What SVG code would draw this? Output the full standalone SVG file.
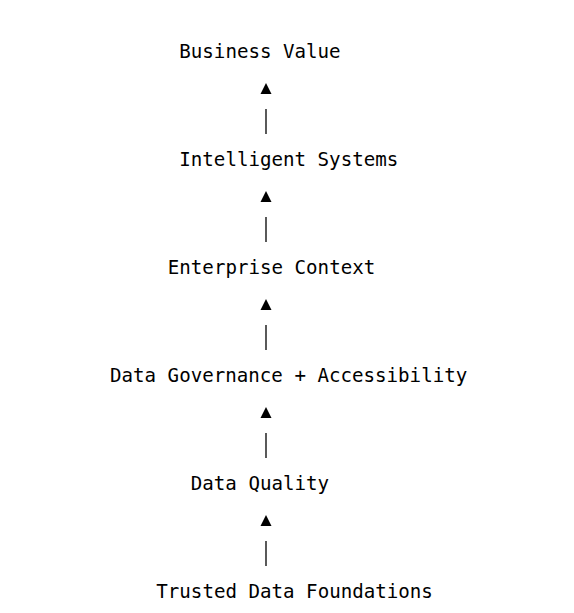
<svg xmlns="http://www.w3.org/2000/svg" width="574" height="613" viewBox="0 0 574 613">
<style>
.t{font-family:"DejaVu Sans Mono","Liberation Mono",monospace;font-size:19.15px;fill:#000}
.bar{stroke:#000;stroke-width:1.3}
.tri{fill:#000}
</style>
<rect width="574" height="613" fill="#fff"/>
<g id="connectors">
<polygon class="tri" points="266,83 260.5,94 271.5,94"/>
<line class="bar" x1="266" y1="109" x2="266" y2="134"/>
<polygon class="tri" points="266,191 260.5,202 271.5,202"/>
<line class="bar" x1="266" y1="217" x2="266" y2="242"/>
<polygon class="tri" points="266,299 260.5,310 271.5,310"/>
<line class="bar" x1="266" y1="325" x2="266" y2="350"/>
<polygon class="tri" points="266,407 260.5,418 271.5,418"/>
<line class="bar" x1="266" y1="433" x2="266" y2="458"/>
<polygon class="tri" points="266,515 260.5,526 271.5,526"/>
<line class="bar" x1="266" y1="541" x2="266" y2="566"/>
</g>
<g id="business-value"><text class="t" x="179.3" y="58">Business Value</text></g>
<g id="intelligent-systems"><text class="t" x="179.3" y="166">Intelligent Systems</text></g>
<g id="enterprise-context"><text class="t" x="167.8" y="274">Enterprise Context</text></g>
<g id="data-governance"><text class="t" x="110" y="382">Data Governance + Accessibility</text></g>
<g id="data-quality"><text class="t" x="190.8" y="490">Data Quality</text></g>
<g id="trusted-data-foundations"><text class="t" x="156.3" y="598">Trusted Data Foundations</text></g>
</svg>
